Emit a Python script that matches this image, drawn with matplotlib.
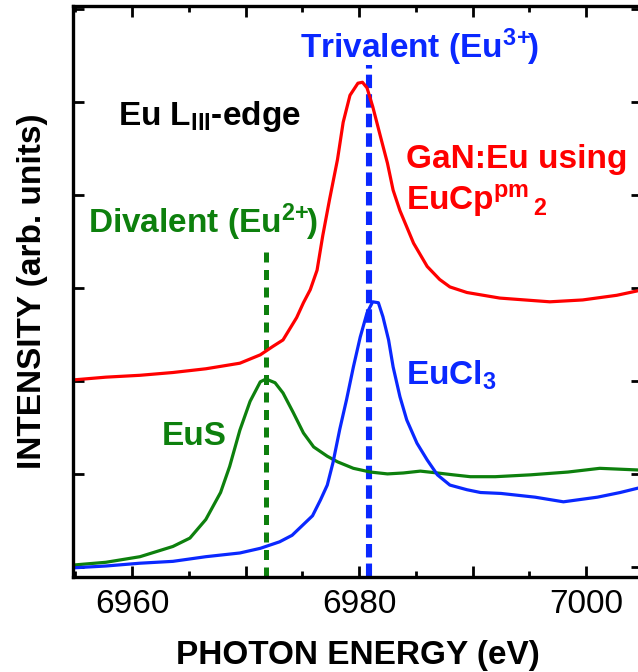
import matplotlib

matplotlib.use("Agg")
import matplotlib.pyplot as plt
from matplotlib.ticker import FixedLocator, FuncFormatter, MultipleLocator

plt.rcParams["font.family"] = ["Liberation Sans", "DejaVu Sans"]
plt.rcParams["mathtext.fontset"] = "custom"
plt.rcParams["mathtext.rm"] = "Liberation Sans:bold"
plt.rcParams["mathtext.it"] = "Liberation Sans:bold"
plt.rcParams["mathtext.bf"] = "Liberation Sans:bold"
plt.rcParams["mathtext.sf"] = "Liberation Sans:bold"

# GaN:Eu (EuCp^pm_2), offset spectrum
gan_energy = [6954.8, 6957.7, 6960.7, 6963.6, 6966.5, 6969.5, 6971.3, 6972.4, 6973.3,
              6974.5, 6975.1, 6975.7, 6976.3, 6976.8, 6977.4, 6978.1, 6978.6, 6979.2,
              6979.9, 6980.3, 6980.7, 6981.2, 6981.9, 6982.5, 6983.0, 6983.6, 6984.8,
              6986.0, 6987.1, 6988.0, 6989.5, 6992.4, 6996.8, 6999.7, 7002.7, 7005.0]
gan_intensity = [2.01, 2.04, 2.06, 2.09, 2.13, 2.19, 2.28, 2.37, 2.44,
                 2.68, 2.84, 2.98, 3.19, 3.56, 3.95, 4.38, 4.78, 5.07,
                 5.20, 5.21, 5.15, 4.95, 4.62, 4.34, 4.05, 3.83, 3.48,
                 3.23, 3.09, 3.01, 2.95, 2.89, 2.85, 2.87, 2.92, 2.98]

# EuS reference (divalent)
eus_energy = [6954.8, 6957.7, 6960.7, 6963.6, 6965.1, 6966.5, 6967.8, 6968.6, 6969.5,
              6970.4, 6971.3, 6971.8, 6972.6, 6973.3, 6974.2, 6975.1, 6976.0, 6977.2,
              6978.1, 6979.5, 6981.0, 6982.5, 6983.9, 6985.4, 6986.9, 6988.3, 6989.8,
              6992.0, 6995.1, 6998.4, 7001.2, 7005.0]
eus_intensity = [0.02, 0.05, 0.11, 0.22, 0.31, 0.51, 0.80, 1.08, 1.47,
                 1.78, 1.99, 2.02, 1.98, 1.87, 1.66, 1.44, 1.29, 1.19,
                 1.13, 1.06, 1.02, 1.00, 1.01, 1.03, 1.01, 0.99, 0.97,
                 0.97, 0.99, 1.02, 1.06, 1.04]

# EuCl3 reference (trivalent)
eucl_energy = [6954.8, 6957.7, 6960.7, 6963.6, 6966.5, 6969.5, 6971.3, 6973.0, 6974.1,
               6975.9, 6976.6, 6977.2, 6977.7, 6978.3, 6978.9, 6979.5, 6980.1, 6980.7,
               6981.2, 6981.7, 6982.1, 6982.6, 6983.0, 6983.6, 6984.2, 6985.1, 6986.0,
               6986.9, 6988.0, 6989.5, 6990.7, 6992.5, 6995.5, 6998.0, 7001.0, 7003.0,
               7005.0]
eucl_intensity = [-0.01, 0.01, 0.04, 0.06, 0.11, 0.15, 0.20, 0.27, 0.34,
                  0.55, 0.72, 0.88, 1.12, 1.48, 1.80, 2.15, 2.47, 2.73,
                  2.85, 2.84, 2.69, 2.44, 2.15, 1.83, 1.58, 1.33, 1.15,
                  0.99, 0.88, 0.83, 0.80, 0.79, 0.75, 0.70, 0.75, 0.80,
                  0.86]

divalent_energy = 6971.8
divalent_top = 3.43
trivalent_energy = 6980.9
trivalent_top = 5.40

x_labels = {6960: "6960", 6980: "6980", 7000: "7000"}

RED = "#ff0000"
GREEN = "#0d800d"
BLUE = "#0a28ff"

fig = plt.figure(figsize=(6.38, 6.72), dpi=100)
ax = fig.add_axes([0.1144, 0.1414, 0.892, 0.8497])

ax.set_xlim(6954.8, 7004.93)
ax.set_ylim(-0.108, 6.03)

ymin = ax.get_ylim()[0]
ax.vlines(divalent_energy, ymin, divalent_top, colors=GREEN, linewidth=3.6,
          linestyles=(0, (2.0, 1.5)), zorder=1)
ax.vlines(trivalent_energy, ymin, trivalent_top, colors=BLUE, linewidth=4.4,
          linestyles=(0, (2.2, 1.0)), zorder=1)

ax.plot(gan_energy, gan_intensity, color=RED, linewidth=2.3, zorder=2,
        solid_joinstyle="round", solid_capstyle="round")
ax.plot(eus_energy, eus_intensity, color=GREEN, linewidth=2.3, zorder=2,
        solid_joinstyle="round", solid_capstyle="round")
ax.plot(eucl_energy, eucl_intensity, color=BLUE, linewidth=2.3, zorder=2,
        solid_joinstyle="round", solid_capstyle="round")

fs = 24
ax.text(6974.8, 5.47, r"Trivalent (Eu$^{3\!+\!\!}$)", color=BLUE, fontsize=fs, fontweight="bold")
ax.text(6958.8, 4.75, r"Eu L$_{\mathrm{III}}$-edge", color="black", fontsize=fs, fontweight="bold")
ax.text(6984.1, 4.29, "GaN:Eu using", color=RED, fontsize=fs, fontweight="bold")
ax.text(6984.1, 3.84, r"EuCp$^{\mathrm{pm}}$$_{\,2}$", color=RED, fontsize=fs, fontweight="bold")
ax.text(6956.1, 3.59, r"Divalent (Eu$^{2\!+\!\!}$)", color=GREEN, fontsize=fs, fontweight="bold")
ax.text(6962.6, 1.31, "EuS", color=GREEN, fontsize=fs, fontweight="bold")
ax.text(6984.1, 1.96, r"EuCl$_{3}$", color=BLUE, fontsize=fs, fontweight="bold")

ax.xaxis.set_major_locator(MultipleLocator(10))
ax.xaxis.set_minor_locator(MultipleLocator(5))
ax.xaxis.set_major_formatter(FuncFormatter(lambda v, pos: x_labels.get(int(round(v)), "")))
ax.yaxis.set_major_locator(FixedLocator([0, 1, 2, 3, 4, 5, 6]))
ax.set_yticklabels([])

ax.tick_params(which="both", direction="in", top=True, right=True, width=2, colors="black")
ax.tick_params(which="major", length=8, labelsize=24, pad=9)
ax.tick_params(which="minor", length=4)
for spine in ax.spines.values():
    spine.set_linewidth(2.4)

ax.set_xlabel("PHOTON ENERGY (eV)", fontsize=24, fontweight="bold", labelpad=14)
ax.set_ylabel("INTENSITY (arb. units)", fontsize=24, fontweight="bold", labelpad=9)

fig.savefig("out.png", dpi=100)
plt.close(fig)
